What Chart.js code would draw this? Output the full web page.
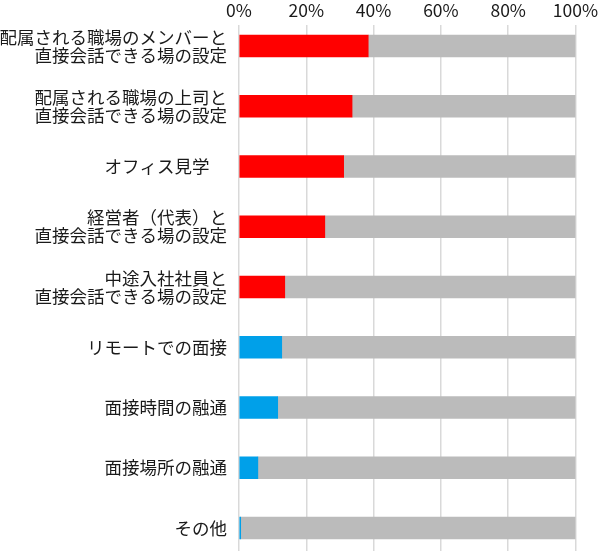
<!DOCTYPE html>
<html>
<head>
<meta charset="utf-8">
<script src="https://cdn.jsdelivr.net/npm/chart.js@4"></script>
<style>
    html, body { margin: 0; padding: 0; background: #fff; overflow: hidden; }
    #wrap { width: 598px; height: 551px; }
</style>
</head>
<body>
<div id="wrap"><canvas id="rankChart"></canvas></div>
<script>
'use strict'

// categories (multi-line labels)
const categories = [
    ['配属される職場のメンバーと', '直接会話できる場の設定'],
    ['配属される職場の上司と', '直接会話できる場の設定'],
    'オフィス見学　',
    ['経営者（代表）と', '直接会話できる場の設定'],
    ['中途入社社員と', '直接会話できる場の設定'],
    'リモートでの面接',
    '面接時間の融通',
    '面接場所の融通',
    'その他'
];

// share (%) who chose the item, and the rest up to 100%
const chosen = [38.4, 33.6, 31.1, 25.5, 13.6, 12.7, 11.5, 5.6, 0.5];
const rest = [61.6, 66.4, 68.9, 74.5, 86.4, 87.3, 88.5, 94.4, 99.5];

const xTicks = [0, 20, 40, 60, 80, 100];


const RED = '#ff0000';
const BLUE = '#00a0e9';
const GRAY = '#bbbbbb';
const chosenColors = [RED, RED, RED, RED, RED, BLUE, BLUE, BLUE, BLUE];

const labelFont = {
    family: '"Noto Sans CJK JP", "Noto Sans", sans-serif',
    size: 17.5,
    lineHeight: 1.03
};

const ctx = document.getElementById('rankChart').getContext('2d');

new Chart(ctx, {
    type: 'bar',
    data: {
        labels: categories,
        datasets: [
            {
                data: chosen,
                backgroundColor: chosenColors,
                barThickness: 22
            },
            {
                data: rest,
                backgroundColor: GRAY,
                barThickness: 22
            }
        ]
    },
    options: {
        indexAxis: 'y',
        responsive: true,
        maintainAspectRatio: false,
        animation: false,
        layout: {
            padding: 0
        },
        plugins: {
            legend: { display: false },
            tooltip: { enabled: false }
        },
        scales: {
            x: {
                position: 'top',
                stacked: true,
                min: 0,
                max: 100,
                afterBuildTicks: function(scale) {
                    scale.ticks = xTicks.map(v => ({ value: v }));
                },
                afterFit: function(scale) {
                    scale.height = 25;
                    scale.paddingLeft = 0;
                    scale.paddingRight = 22.5;
                },
                grid: {
                    color: '#d9d9d9',
                    lineWidth: 1.5,
                    drawTicks: false
                },
                border: { display: false },
                ticks: {
                    padding: 4,
                    color: '#1a1a1a',
                    font: { family: '"Noto Sans CJK JP", "Noto Sans", sans-serif', size: 17.5 },
                    callback: function(value) {
                        return value + '%';
                    }
                }
            },
            y: {
                stacked: true,
                afterBuildTicks: function(scale) {
                    // spread the rows like the original (first row 21px below the top)
                    scale._startValue = -0.349;
                    scale._valueRange = 8.73;
                },
                afterFit: function(scale) {
                    scale.width = 239;
                    scale.paddingTop = 0;
                    scale.paddingBottom = 0;
                },
                grid: { display: false, drawTicks: false },
                border: { display: false },
                ticks: {
                    padding: 12,
                    color: '#1a1a1a',
                    autoSkip: false,
                    font: labelFont
                }
            }
        }
    }
});
</script>
</body>
</html>
